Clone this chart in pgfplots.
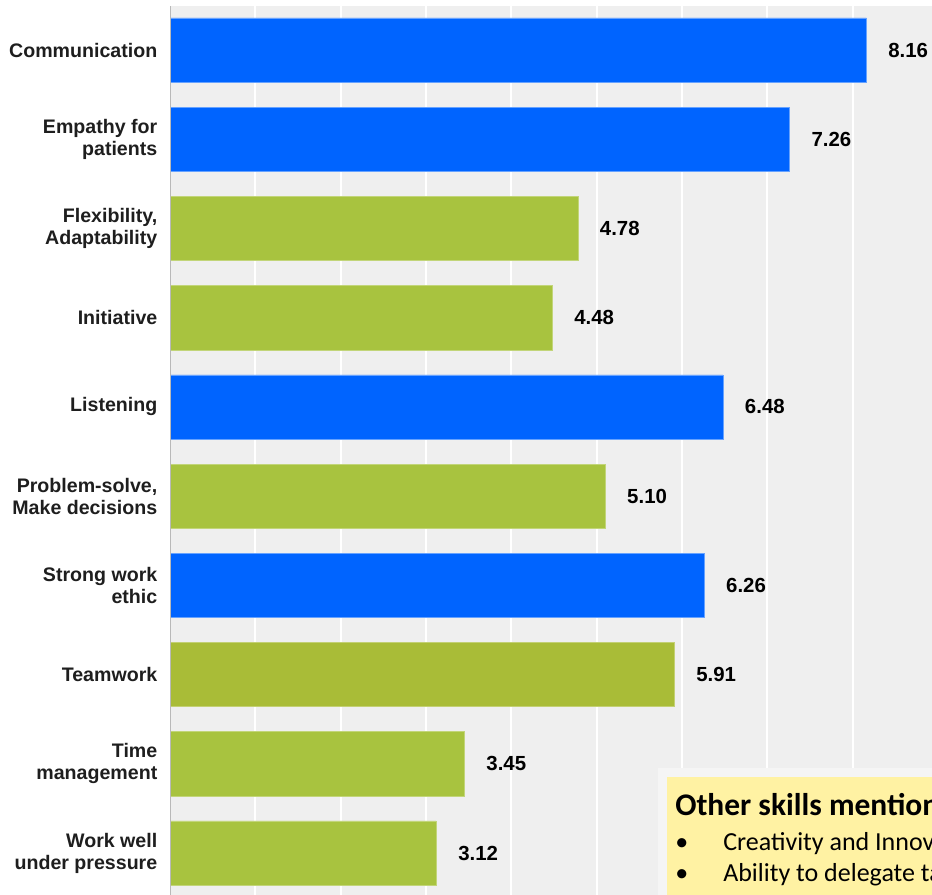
\documentclass[border=0pt]{standalone}
\usepackage{pgfplots}
\pgfplotsset{compat=1.18}
\usepackage{fontspec}
\setmainfont{Liberation Sans}
\newfontfamily\calibri{Carlito}
\definecolor{barblue}{RGB}{0,100,255}
\definecolor{bargreen}{RGB}{168,195,63}
\definecolor{bargreendk}{RGB}{169,188,55}
\definecolor{bggray}{RGB}{239,239,239}
\definecolor{boxyellow}{RGB}{255,242,163}
\definecolor{boxedge}{RGB}{245,245,245}
\definecolor{labelcol}{RGB}{30,30,30}
\begin{document}
\begin{tikzpicture}
\begin{axis}[
  at={(127.5pt,-4.5pt)}, anchor=north west,
  scale only axis, width=571.5pt, height=666.75pt,
  xmin=0, xmax=8.93, ymin=-0.493, ymax=9.47, y dir=reverse,
  xbar, bar shift=0pt, bar width=0.72,
  axis background/.style={fill=bggray},
  axis line style={draw=none},
  xtick={1,...,8}, xticklabels={}, xmajorgrids,
  grid style={white, line width=1.5pt},
  major tick length=0pt,
  ytick={0,...,9},
  yticklabels={Communication,{Empathy for\\patients},{Flexibility,\\Adaptability},Initiative,Listening,{Problem-solve,\\Make decisions},{Strong work\\ethic},Teamwork,{Time\\management},{Work well\\under pressure}},
  yticklabel style={align=right, font=\fontsize{14.7}{16.5}\selectfont\bfseries, text=labelcol, xshift=-6pt},
  /pgf/number format/assume math mode=true,
  point meta=x,
  nodes near coords={\pgfmathprintnumber[fixed,fixed zerofill,precision=2]{\pgfplotspointmeta}},
  nodes near coords style={font=\fontsize{15.3}{16}\selectfont\bfseries, text=black, anchor=west, xshift=13pt},
]
\addplot[fill=barblue, draw=barblue!60!white, line width=0.4pt] coordinates {(8.16,0) (7.26,1) (6.48,4) (6.26,6)};
\addplot[fill=bargreen, draw=bargreen!70!white, line width=0.4pt] coordinates {(4.78,2) (4.48,3) (5.10,5) (3.45,8) (3.12,9)};
\addplot[fill=bargreendk, draw=bargreendk!70!white, line width=0.4pt] coordinates {(5.91,7)};
\draw[gray!55, line width=1pt] (axis cs:0,-0.493) -- (axis cs:0,9.47);
\end{axis}
\begin{scope}
\clip (493.5pt,-576pt) rectangle (699pt,-671.25pt);
\fill[boxedge] (493.5pt,-576pt) rectangle (710pt,-680pt);
\fill[boxyellow] (500.25pt,-582.75pt) rectangle (710pt,-680pt);
\node[anchor=base west, inner sep=0pt, font=\calibri\bfseries\fontsize{23.6}{25}\selectfont] at (506.25pt,-611.25pt) {Other skills mentioned};
\node[anchor=base west, inner sep=0pt, font=\calibri\fontsize{19.5}{22}\selectfont] at (506.25pt,-637.5pt) {•};
\node[anchor=base west, inner sep=0pt, font=\calibri\fontsize{19.5}{22}\selectfont] at (542.25pt,-637.5pt) {Creativity and Innovation};
\node[anchor=base west, inner sep=0pt, font=\calibri\fontsize{19.5}{22}\selectfont] at (506.25pt,-661.3pt) {•};
\node[anchor=base west, inner sep=0pt, font=\calibri\fontsize{19.5}{22}\selectfont] at (542.25pt,-661.3pt) {Ability to delegate tasks};
\end{scope}
\pgfresetboundingbox
\path (0pt,0pt) rectangle (699pt,-671.25pt);
\end{tikzpicture}
\end{document}
